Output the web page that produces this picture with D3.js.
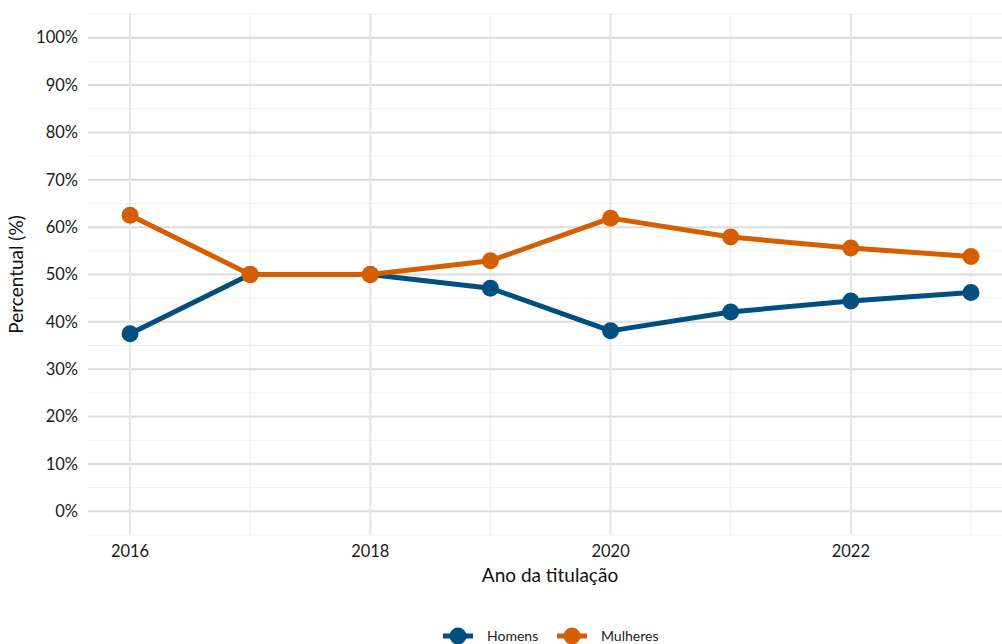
<!DOCTYPE html>
<html>
<head>
<meta charset="utf-8">
<script src="https://cdn.jsdelivr.net/npm/d3@7"></script>
<style>
  body { margin: 0; background: #fff; }
  svg { font-family: Lato, "Open Sans", sans-serif; }
</style>
</head>
<body>
<div id="chart"></div>
<script>
// dados
var anos = [2016, 2017, 2018, 2019, 2020, 2021, 2022, 2023];
var homens = [37.5, 50, 50, 47.1, 38.1, 42.1, 44.4, 46.2];
var mulheres = [62.5, 50, 50, 52.9, 61.9, 57.9, 55.6, 53.8];
var seriesNames = ["Homens", "Mulheres"];
var seriesColors = ["#004f7f", "#d55e00"];
var yTicks = [0, 10, 20, 30, 40, 50, 60, 70, 80, 90, 100];
var xTicks = [2016, 2018, 2020, 2022];

var W = 1002, H = 644;
var margin = {left: 88, right: -11, top: 14, bottom: 109};

var svg = d3.select("#chart").append("svg")
    .attr("width", W)
    .attr("height", H);

var x = d3.scaleLinear()
    .domain([2015.65, 2023.35])
    .range([margin.left, W - margin.right]);
var y = d3.scaleLinear()
    .domain([-5, 105])
    .range([H - margin.bottom, margin.top]);

var grid = svg.append("g");

// minor grid
grid.selectAll("line.ymin")
    .data(d3.range(5, 106, 10).concat([-5]))
    .enter().append("line")
    .attr("x1", x.range()[0]).attr("x2", x.range()[1])
    .attr("y1", function(d){ return y(d); }).attr("y2", function(d){ return y(d); })
    .attr("stroke", "#f0f0f0").attr("stroke-width", 1);
grid.selectAll("line.xmin")
    .data([2017, 2019, 2021, 2023])
    .enter().append("line")
    .attr("y1", y.range()[0]).attr("y2", y.range()[1])
    .attr("x1", function(d){ return x(d); }).attr("x2", function(d){ return x(d); })
    .attr("stroke", "#ededed").attr("stroke-width", 1.2);

// major grid
grid.selectAll("line.ymaj")
    .data(yTicks)
    .enter().append("line")
    .attr("x1", x.range()[0]).attr("x2", x.range()[1])
    .attr("y1", function(d){ return y(d); }).attr("y2", function(d){ return y(d); })
    .attr("stroke", "#dcdcdc").attr("stroke-width", 2);
grid.selectAll("line.xmaj")
    .data(xTicks)
    .enter().append("line")
    .attr("y1", y.range()[0]).attr("y2", y.range()[1])
    .attr("x1", function(d){ return x(d); }).attr("x2", function(d){ return x(d); })
    .attr("stroke", "#e6e6e6").attr("stroke-width", 2);

// axis labels
svg.selectAll("text.ytick")
    .data(yTicks)
    .enter().append("text")
    .attr("x", 78)
    .attr("y", function(d){ return y(d); })
    .attr("dy", "0.35em")
    .attr("text-anchor", "end")
    .attr("font-size", 16.5)
    .attr("fill", "#1a1a1a")
    .text(function(d){ return d + "%"; });

svg.selectAll("text.xtick")
    .data(xTicks)
    .enter().append("text")
    .attr("x", function(d){ return x(d); })
    .attr("y", 557)
    .attr("text-anchor", "middle")
    .attr("font-size", 16.5)
    .attr("fill", "#1a1a1a")
    .text(function(d){ return d; });

svg.append("text")
    .attr("x", 550).attr("y", 582)
    .attr("text-anchor", "middle")
    .attr("font-size", 19)
    .attr("fill", "#111")
    .text("Ano da titulação");

svg.append("text")
    .attr("transform", "translate(23," + y(50) + ") rotate(-90)")
    .attr("text-anchor", "middle")
    .attr("font-size", 19)
    .attr("fill", "#111")
    .text("Percentual (%)");

// series
var line = d3.line()
    .x(function(d){ return x(d.ano); })
    .y(function(d){ return y(d.v); });

var series = [homens, mulheres].map(function(vals, k){
    return { name: seriesNames[k], color: seriesColors[k],
        pts: anos.map(function(a, i){ return {ano: a, v: vals[i]}; }) };
});

series.forEach(function(s){
    var g = svg.append("g");
    g.append("path")
        .attr("d", line(s.pts))
        .attr("fill", "none")
        .attr("stroke", s.color)
        .attr("stroke-width", 5)
        .attr("stroke-linejoin", "round");
    g.selectAll("circle")
        .data(s.pts)
        .enter().append("circle")
        .attr("cx", function(d){ return x(d.ano); })
        .attr("cy", function(d){ return y(d.v); })
        .attr("r", 8.5)
        .attr("fill", s.color);
});

// legend
var legX = [458, 572];
series.forEach(function(s, k){
    var g = svg.append("g").attr("transform", "translate(" + legX[k] + ",636)");
    g.append("line")
        .attr("x1", -15).attr("x2", 15)
        .attr("stroke", s.color).attr("stroke-width", 5);
    g.append("circle").attr("r", 8.5).attr("fill", s.color);
    g.append("text")
        .attr("x", 29).attr("dy", "0.35em")
        .attr("font-size", 14)
        .attr("fill", "#222")
        .text(s.name);
});
</script>
</body>
</html>
